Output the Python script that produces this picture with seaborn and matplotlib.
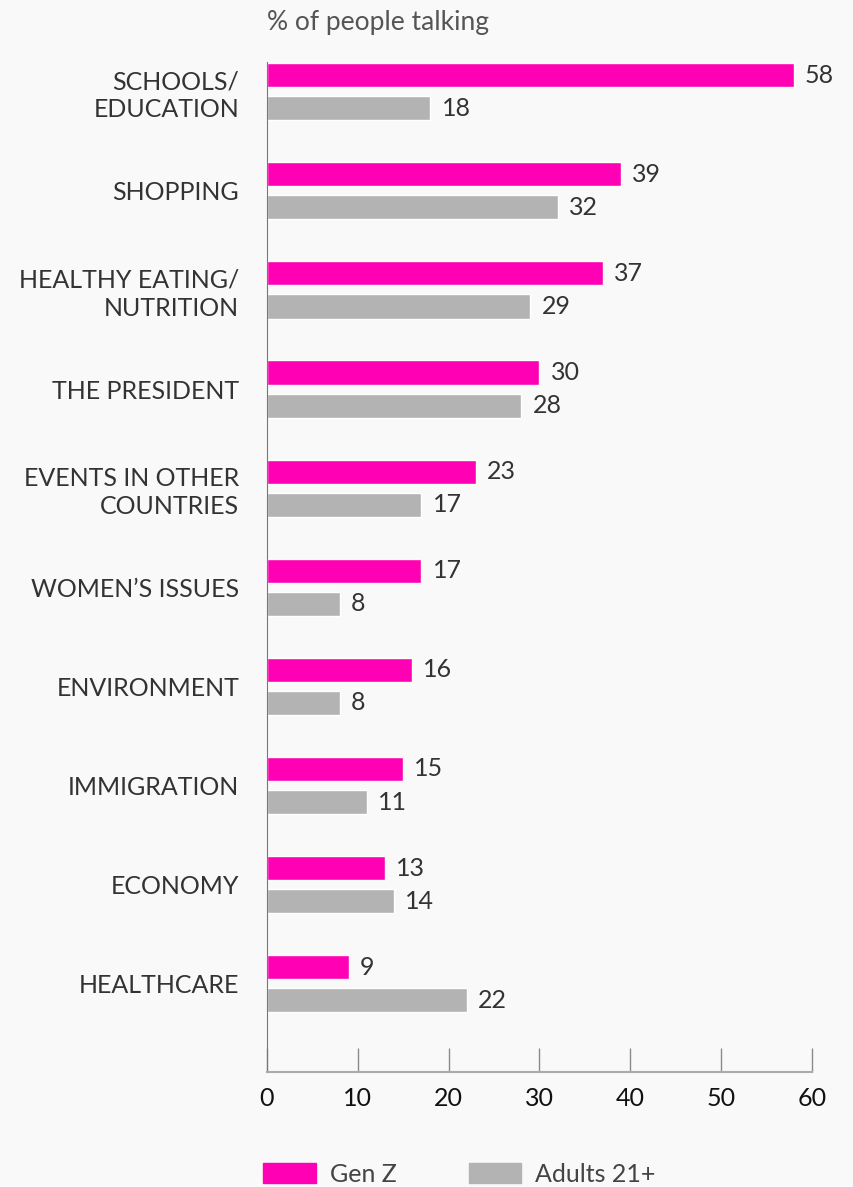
import pandas as pd
import numpy as np
import matplotlib.pyplot as plt
import seaborn as sns

# données
categories = ["SCHOOLS/\nEDUCATION", "SHOPPING", "HEALTHY EATING/\nNUTRITION", "THE PRESIDENT",
              "EVENTS IN OTHER\nCOUNTRIES", "WOMEN\u2019S ISSUES", "ENVIRONMENT", "IMMIGRATION",
              "ECONOMY", "HEALTHCARE"]
gen_z = [58, 39, 37, 30, 23, 17, 16, 15, 13, 9]
adults = [18, 32, 29, 28, 17, 8, 8, 11, 14, 22]
groups = ["Gen Z", "Adults 21+"]
ticks = [0, 10, 20, 30, 40, 50, 60]

df = pd.DataFrame({
    "topic": categories * 2,
    "pct": gen_z + adults,
    "group": [groups[0]] * len(categories) + [groups[1]] * len(categories),
})

bg = "#f9f9f9"
pink = "#ff00b4"
grey = "#b3b3b3"
txt = "#333333"

sns.set_style("white")
plt.rcParams["font.family"] = ["Lato", "DejaVu Sans"]

fig = plt.figure(figsize=(8.54, 11.87), dpi=100, facecolor=bg)
ax = fig.add_axes([0.3126, 0.0969, 0.6382, 0.8509], facecolor=bg)

sns.barplot(data=df, y="topic", x="pct", hue="group", order=categories, hue_order=groups,
            palette=[pink, grey], width=0.667, gap=0.27, orient="h", ax=ax, legend=False,
            saturation=1)

for c in ax.containers:
    ax.bar_label(c, fmt="%d", padding=8, fontsize=18, color=txt)

ax.set_xlim(0, 60)
ax.set_ylim(9.89, -0.3)
ax.set_xticks(ticks)
ax.set_xlabel("")
ax.set_ylabel("")
ax.tick_params(axis="x", bottom=True, direction="in", length=17, width=1, color="#8a8a8a",
               labelsize=18, labelcolor="#111111", pad=11)
ax.tick_params(axis="y", left=False, length=0, labelsize=18, labelcolor=txt, pad=20)
for lab in ax.get_yticklabels():
    lab.set_linespacing(1.25)

for s in ["top", "right"]:
    ax.spines[s].set_visible(False)
ax.spines["left"].set_color("#777777")
ax.spines["bottom"].set_color("#aaaaaa")
ax.spines["bottom"].set_linewidth(1.5)

fig.text(0.3126, 0.981, "% of people talking", fontsize=19, color="#555555", va="center")

handles = [plt.Rectangle((0, 0), 1, 1, color=pink), plt.Rectangle((0, 0), 1, 1, color=grey)]
fig.legend(handles, groups, loc="lower left", bbox_to_anchor=(0.282, -0.018), ncol=2,
           frameon=False, fontsize=18, handlelength=2.1, handleheight=0.85,
           columnspacing=2.9, handletextpad=0.55, labelcolor="#444444")

plt.savefig("out.png", dpi=100, facecolor=bg)
